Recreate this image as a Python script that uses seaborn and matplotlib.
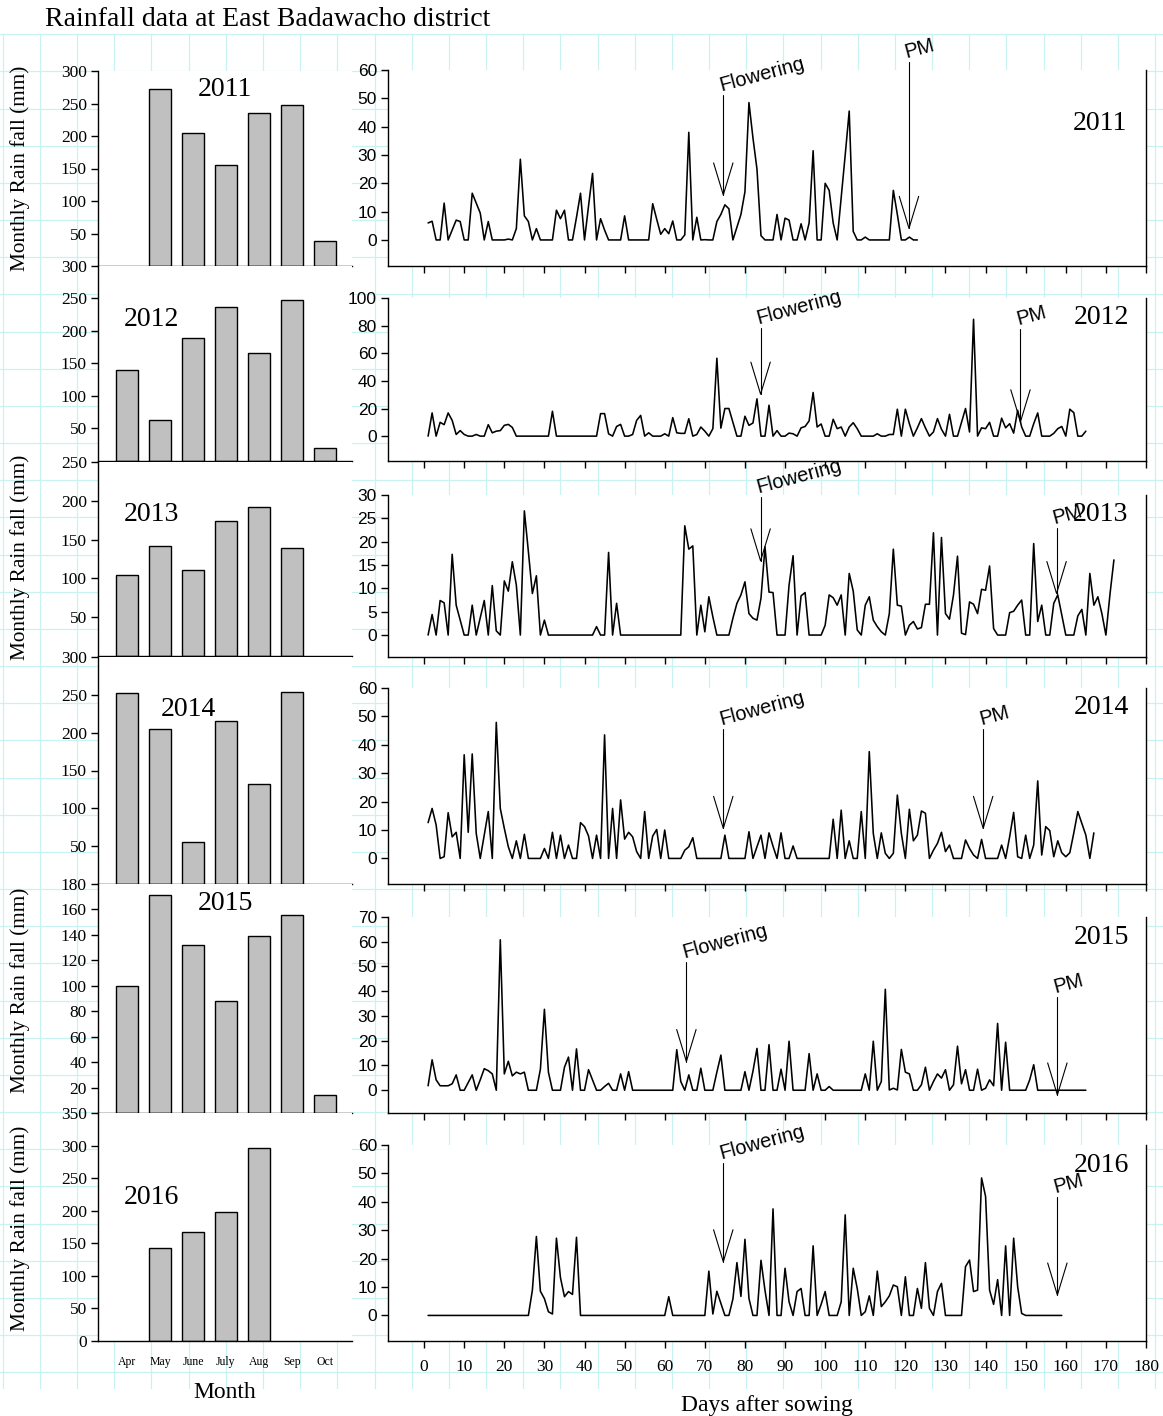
import numpy as np
import pandas as pd
import matplotlib
matplotlib.use('Agg')
import matplotlib.pyplot as plt
import seaborn as sns

sns.set_theme(style='ticks')
plt.rcParams['font.family'] = ['Liberation Serif', 'DejaVu Serif']
plt.rcParams['axes.edgecolor'] = 'black'
plt.rcParams['axes.linewidth'] = 1.0
plt.rcParams['xtick.color'] = 'black'
plt.rcParams['ytick.color'] = 'black'
plt.rcParams['text.color'] = 'black'
plt.rcParams['axes.labelcolor'] = 'black'

SANS = ['Liberation Sans', 'DejaVu Sans']
SERIF = ['Liberation Serif', 'DejaVu Serif']

# ---------------- data ----------------
years = ['2011', '2012', '2013', '2014', '2015', '2016']
months = ['Apr', 'May', 'June', 'July', 'Aug', 'Sep', 'Oct']
nan = np.nan
monthly_2011 = [nan, 273, 204, 156, 236, 248, 39]
monthly_2012 = [139, 62, 189, 237, 166, 247, 19]
monthly_2013 = [104, 142, 111, 174, 192, 139, nan]
monthly_2014 = [252, 205, 56, 215, 132, 254, nan]
monthly_2015 = [100, 171, 132, 88, 139, 156, 14]
monthly_2016 = [nan, 143, 167, 198, 296, nan, nan]

rain_2011 = [6, 6.6, 0, 0, 13, 0, 3.5, 7, 6.5, 0,
             0, 16.5, 13, 9.5, 0, 6.5, 0, 0, 0, 0,
             0.3, 0, 4, 28.5, 8.5, 6.5, 0, 4, 0, 0,
             0, 0, 10.5, 7.5, 10.5, 0, 0, 8, 16.5, 0,
             12, 23.5, 0, 7.5, 3.5, 0, 0, 0, 0, 8.5,
             0, 0, 0, 0, 0, 0, 12.8, 7.3, 2, 4,
             2.2, 6.7, 0, 0, 1.8, 38, 0, 8, 0, 0.1,
             0, 0, 6.5, 9, 12.4, 11, 0, 4.5, 9, 17,
             48.5, 36, 25, 1.5, 0, 0, 0, 9, 0, 7.7,
             7, 0, 0, 5.7, 0, 6, 31.5, 0, 0, 20,
             17.5, 6, 0, 15, 30, 45.5, 3, 0, 0, 1,
             0, 0, 0, 0, 0, 0, 17.5, 9, 0, 0,
             1, 0, 0]
rain_2012 = [0, 16.8, 0, 10, 8.3, 16.8, 11.4, 1.2, 4, 1.2,
             0, 0, 1.2, 0, 0, 8.3, 2.4, 3.6, 4, 7.8,
             8.5, 6.3, 0, 0, 0, 0, 0, 0, 0, 0,
             0, 18, 0, 0, 0, 0, 0, 0, 0, 0,
             0, 0, 0, 16.3, 16.3, 1.7, 0, 7, 8.5, 0,
             0, 1.2, 11.4, 15, 0, 2.4, 0, 0, 0, 1.7,
             0, 13.4, 2.4, 2, 2, 12.6, 0, 1.2, 6.6, 3.6,
             0, 5.4, 56.4, 5.8, 20, 20, 10, 0, 0, 14.4,
             7.8, 9.5, 27, 0, 0, 22.4, 0, 4, 0, 0,
             2.2, 1.7, 0, 6, 7, 11, 31.6, 6.6, 8.8, 0,
             0, 12.2, 5.4, 6.6, 0, 6.6, 9.7, 5.4, 0, 0,
             0, 0, 1.7, 0, 0, 1.2, 1.2, 19.5, 0, 19.5,
             9, 0, 6, 12.7, 6, 0, 3, 12.7, 5, 0,
             15.8, 0, 0, 10, 20, 3, 84.6, 0, 6, 5.4,
             10, 0, 0, 13, 6, 9, 2.2, 18.7, 6.6, 0,
             0, 9, 16.8, 0, 0, 0, 2, 5.4, 7, 0,
             19.5, 17, 0, 0, 3.6]
rain_2013 = [0, 4.4, 0, 7.4, 6.9, 0, 17.3, 6.4, 3.2, 0,
             0, 6.4, 0, 3.7, 7.4, 0, 10.6, 0.9, 0, 11.6,
             9.4, 15.7, 10.7, 0, 26.6, 17.9, 8.9, 12.7, 0, 3.2,
             0, 0, 0, 0, 0, 0, 0, 0, 0, 0,
             0, 0, 1.8, 0, 0, 17.7, 0, 6.8, 0, 0,
             0, 0, 0, 0, 0, 0, 0, 0, 0, 0,
             0, 0, 0, 0, 23.4, 18.4, 19.1, 0, 6.4, 0.7,
             8.2, 3.9, 0, 0, 0, 0, 3.6, 6.8, 8.6, 11.4,
             4.6, 3.6, 3.2, 7.9, 18.9, 9.2, 9.1, 0, 0, 0,
             10.7, 17, 0, 8.4, 9.1, 0, 0, 0, 0, 2.1,
             8.6, 8, 6.4, 8.6, 0, 13.2, 9.4, 1.1, 0, 6.4,
             8.2, 3.2, 1.8, 0.7, 0, 4.6, 18.4, 6.4, 6.2, 0,
             2.1, 2.9, 1.3, 1.6, 6.6, 6.6, 21.9, 0, 20.9, 4.6,
             3.4, 8.6, 16.9, 0.4, 0.1, 7.1, 6.6, 4.6, 9.8, 9.6,
             14.8, 1.4, 0, 0, 0, 4.8, 5.1, 6.4, 7.5, 0,
             0, 19.6, 2.9, 6.4, 0, 0, 6.8, 8.6, 4.3, 0,
             0, 0, 4.1, 5.5, 0, 13.2, 6.4, 8.2, 4.6, 0,
             8.6, 16.1]
rain_2014 = [12.6, 17.6, 11.8, 0, 0.6, 16.1, 7.6, 9.2, 0, 36.5,
             9.2, 36.8, 8.8, 0, 8.2, 16.5, 0, 47.9, 17.6, 10.6,
             4.1, 0, 6.2, 0, 8.5, 0, 0, 0, 0, 3.5,
             0, 9.2, 0, 8.2, 0, 4.7, 0, 0, 12.6, 11.2,
             7.9, 0, 8.2, 0, 43.5, 0, 17.6, 0, 20.6, 6.8,
             9.2, 7.6, 2.4, 0, 16.5, 0, 7.9, 10.2, 0, 10,
             0, 0, 0, 0, 2.9, 4.1, 7.3, 0, 0, 0,
             0, 0, 0, 0, 8.2, 0, 0, 0, 0, 0,
             9.4, 0, 4.1, 8.2, 0, 9, 4.3, 0, 9, 0,
             0, 4.4, 0, 0, 0, 0, 0, 0, 0, 0,
             0, 13.8, 0, 17, 0, 6.2, 0, 0, 16.5, 0,
             37.6, 8.8, 0, 9, 1.8, 0, 1.8, 22.3, 8.8, 0,
             17.3, 6.2, 8.2, 16.7, 15.9, 0, 2.9, 5.3, 9.2, 2.4,
             4.7, 0, 0, 0, 6.5, 3.5, 1.2, 0, 6.7, 0,
             0, 0, 0, 4.7, 0, 7.6, 16.2, 0.6, 0, 8.2,
             0, 4.7, 27.3, 1.2, 11.2, 9.8, 0.6, 6.2, 2, 0.6,
             2, 9, 16.5, 12.4, 8.2, 0, 9]
rain_2015 = [1.8, 12.3, 4.2, 1.8, 1.8, 1.8, 2.6, 6.2, 0, 0,
             3.1, 6.2, 0, 4.2, 8.7, 7.9, 6.6, 0, 60.8, 6.6,
             11.7, 5.8, 7.3, 6.6, 7.3, 0, 0, 0, 8.5, 32.7,
             7.3, 0, 0, 0, 9.3, 13.4, 0, 16.7, 0, 0,
             8.3, 4.2, 0, 0, 1.5, 2.8, 0, 0, 6.6, 0,
             7.5, 0, 0, 0, 0, 0, 0, 0, 0, 0,
             0, 0, 16.4, 3.5, 0, 6.2, 0, 0, 8.9, 0,
             0, 0, 7.3, 14.2, 0, 0, 0, 0, 0, 7.5,
             0, 7.7, 16.9, 0, 0, 18.4, 0, 0, 8.5, 0,
             19.8, 0, 0, 0, 0, 14.8, 0, 6.6, 0, 0,
             1.5, 0, 0, 0, 0, 0, 0, 0, 0, 6.6,
             0, 19.8, 0, 3.5, 40.8, 0.1, 0.8, 0.1, 16.5, 7.3,
             6.6, 0, 0, 2.2, 9.3, 0, 3.5, 6.6, 4.9, 8.3,
             0, 2.2, 17.8, 2.6, 8.3, 0, 0, 8.5, 0, 0.8,
             4.2, 1.8, 27, 0, 19.4, 0, 0, 0, 0, 0,
             4.2, 10.3, 0, 0, 0, 0, 0, 0, 0, 0,
             0, 0, 0, 0, 0]
rain_2016 = [0, 0, 0, 0, 0, 0, 0, 0, 0, 0,
             0, 0, 0, 0, 0, 0, 0, 0, 0, 0,
             0, 0, 0, 0, 0, 0, 8.9, 27.8, 8.5, 5.9,
             1.3, 0.5, 27.2, 13.3, 6.6, 8.4, 7.4, 27.5, 0, 0,
             0, 0, 0, 0, 0, 0, 0, 0, 0, 0,
             0, 0, 0, 0, 0, 0, 0, 0, 0, 0,
             6.6, 0, 0, 0, 0, 0, 0, 0, 0, 0,
             15.6, 0.5, 8.5, 4.2, 0, 0, 5.8, 18.6, 6.7, 26.8,
             6, 0, 0, 19.4, 8.8, 0, 37.5, 0, 0, 16.6,
             4.8, 0, 8.4, 9.5, 0, 0, 24.5, 0, 3.9, 8.4,
             0, 0, 0, 4.8, 35.4, 0, 16.6, 9.5, 0, 1.3,
             6.9, 0, 15.6, 3.1, 4.8, 6.9, 10.7, 10.1, 0, 13.6,
             0, 0, 9.5, 2.5, 18.6, 2.5, 0, 8.4, 11.3, 0,
             0, 0, 0, 0, 17.2, 19.5, 8.4, 8.9, 48.4, 41.9,
             8.9, 3.9, 12.6, 0, 24.5, 0, 27.2, 10.1, 0.7, 0,
             0, 0, 0, 0, 0, 0, 0, 0, 0]

monthly = [monthly_2011, monthly_2012, monthly_2013, monthly_2014, monthly_2015, monthly_2016]
daily = [rain_2011, rain_2012, rain_2013, rain_2014, rain_2015, rain_2016]

# growth stage markers (day, arrow tip value, arrow top value)
flower_day = [74.6, 83.9, 83.9, 74.6, 65.4, 74.6]
flower_tip = [15.9, 30.4, 15.9, 10.6, 11.6, 18.9]
flower_top = [51.2, 78.6, 29.6, 45.5, 51.9, 53.6]
pm_day = [120.9, 148.7, 157.7, 139.4, 157.9, 157.9]
pm_tip = [4.1, 10.4, 8.9, 10.6, -1.9, 7.2]
pm_top = [62.9, 77.9, 22.9, 45.5, 37.8, 41.8]

bar_ylims = [(0, 300), (0, 300), (0, 250), (0, 300), (0, 180), (0, 350)]
bar_ticks = [np.arange(50, 301, 50), np.arange(50, 301, 50), np.arange(50, 251, 50),
             np.arange(50, 301, 50), np.arange(20, 181, 20), np.arange(0, 351, 50)]
line_ylims = [(-9.2, 60), (-18, 100), (-4.7, 30), (-9, 60), (-9.2, 70), (-9, 60)]
line_ticks = [np.arange(0, 61, 10), np.arange(0, 101, 20), np.arange(0, 31, 5),
              np.arange(0, 61, 10), np.arange(0, 71, 10), np.arange(0, 61, 10)]
day_ticks = np.arange(0, 181, 10)

# ---------------- layout (pixels) ----------------
W, H = 1163, 1416
fig = plt.figure(figsize=(W / 100, H / 100), dpi=100)
fig.patch.set_facecolor('white')


def px_axes(x0, y0, x1, y1, **kw):
    return fig.add_axes([x0 / W, 1 - y1 / H, (x1 - x0) / W, (y1 - y0) / H], **kw)


# faint page grid in the background
bg = px_axes(0, 0, W, H)
bg.set_zorder(-5)
bg.set_xlim(0, W)
bg.set_ylim(H, 0)
bg.axis('off')
for gx in np.arange(2.8, W, 37.17):
    bg.plot([gx, gx], [34, 1388], color='#c9f3f3', lw=0.9)
for gy in np.arange(1372.3, 30, -37.17):
    bg.plot([0, W], [gy, gy], color='#c9f3f3', lw=0.9)

left_rows = [(71, 266), (266, 460.5), (462, 656), (657, 884), (884, 1113), (1113, 1341)]
right_rows = [(70, 266), (298, 461), (495, 657), (688, 884), (917, 1113), (1145, 1341)]
LX0, LX1 = 98, 352
RX0, RX1 = 388, 1146
year_left_pos = [(225, 90), (151, 319), (151, 514), (188, 710), (225, 904), (151, 1198)]
year_right_pos = [(1100, 123), (1101, 318), (1100, 514), (1101, 708), (1101, 937), (1101, 1165)]

HEAD_LEN_PX = 32
HEAD_HALF_PX = 9.7

for i, yr in enumerate(years):
    # ---- monthly bars ----
    t, b = left_rows[i]
    axb = px_axes(LX0, t, LX1, b)
    axb.set_facecolor('white')
    dfm = pd.DataFrame({'month': months, 'rain': monthly[i]})
    sns.barplot(data=dfm, x='month', y='rain', order=months, color='#c0c0c0',
                saturation=1, edgecolor='black', linewidth=1.0, width=0.64,
                errorbar=None, ax=axb)
    axb.set_xlim(-0.88, 6.82)
    axb.set_ylim(*bar_ylims[i])
    axb.set_yticks(bar_ticks[i])
    axb.set_yticklabels([str(v) for v in bar_ticks[i]], fontsize=12.5, family=SERIF)
    axb.set_xlabel('')
    axb.set_ylabel('')
    sns.despine(ax=axb)
    axb.tick_params(axis='y', direction='out', length=5, width=1, pad=3)
    if i == len(years) - 1:
        axb.tick_params(axis='x', length=0, pad=11)
        axb.set_xticks(range(len(months)))
        axb.set_xticklabels(months, fontsize=8.5, family=SERIF)
    else:
        axb.tick_params(axis='x', length=0, labelbottom=False)
    fig.text(year_left_pos[i][0] / W, 1 - year_left_pos[i][1] / H, yr,
             ha='center', va='center', fontsize=20, family=SERIF)

    # ---- daily rainfall ----
    t, b = right_rows[i]
    axl = px_axes(RX0, t, RX1, b)
    axl.set_facecolor('white')
    dfd = pd.DataFrame({'day': np.arange(1, len(daily[i]) + 1), 'rain': daily[i]})
    sns.lineplot(data=dfd, x='day', y='rain', color='black', linewidth=1.15, ax=axl)
    axl.set_xlim(-9, 180)
    axl.set_ylim(*line_ylims[i])
    axl.set_yticks(line_ticks[i])
    axl.set_yticklabels([str(v) for v in line_ticks[i]], fontsize=12.5, family=SANS)
    axl.set_xticks(day_ticks)
    axl.set_xlabel('')
    axl.set_ylabel('')
    axl.spines['top'].set_visible(False)
    axl.tick_params(axis='both', direction='out', length=5, width=1, pad=3)
    if i == len(years) - 1:
        axl.set_xticklabels([str(v) for v in day_ticks], fontsize=12.5, family=SERIF)
        axl.tick_params(axis='x', pad=8)
    else:
        axl.tick_params(axis='x', labelbottom=False)
    fig.text(year_right_pos[i][0] / W, 1 - year_right_pos[i][1] / H, yr,
             ha='center', va='center', fontsize=20, family=SERIF)

    # ---- arrows for flowering and physiological maturity ----
    ax_h_px = b - t
    y0, y1 = line_ylims[i]
    dy = HEAD_LEN_PX * (y1 - y0) / ax_h_px
    dx = HEAD_HALF_PX * 189 / (RX1 - RX0)
    for d, tip, top, lab in [(flower_day[i], flower_tip[i], flower_top[i], 'Flowering'),
                             (pm_day[i], pm_tip[i], pm_top[i], 'PM')]:
        axl.plot([d, d], [top, tip], color='black', lw=0.8, clip_on=False)
        axl.plot([d - dx, d, d + dx], [tip + dy, tip, tip + dy], color='black',
                 lw=0.8, clip_on=False)
        axl.text(d - 0.3, top, lab, rotation=15, rotation_mode='anchor', ha='left',
                 va='bottom', fontsize=14.5, family=SANS, clip_on=False)

# ---------------- labels ----------------
for yc in [168, 557, 990, 1228]:
    fig.text(20 / W, 1 - yc / H, 'Monthly Rain fall (mm)', rotation=90,
             ha='center', va='center', fontsize=15.3, family=SERIF)
fig.text(45 / W, 1 - 20 / H, 'Rainfall data at East Badawacho district',
         ha='left', va='center', fontsize=20, family=SERIF)
fig.text(225 / W, 1 - 1393 / H, 'Month', ha='center', va='center', fontsize=17, family=SERIF)
fig.text(767 / W, 1 - 1405 / H, 'Days after sowing', ha='center', va='center',
         fontsize=17, family=SERIF)

fig.savefig('out.png', dpi=100, facecolor='white')
